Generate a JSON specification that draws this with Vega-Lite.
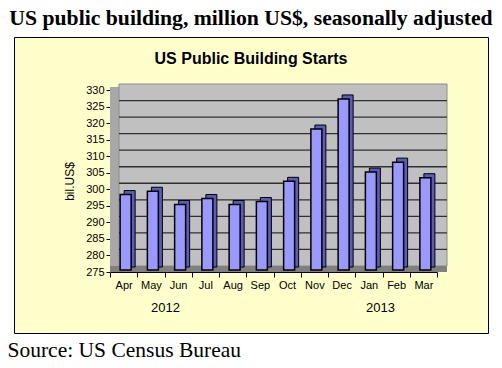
{
  "$schema": "https://vega.github.io/schema/vega-lite/v6.json",
  "width": 474,
  "height": 296,
  "autosize": {"type": "none"},
  "padding": {"left": 14, "top": 37, "right": 14, "bottom": 35},
  "background": "white",
  "title": {
    "text": "US public building, million US$, seasonally adjusted",
    "subtitle": "US Public Building Starts",
    "anchor": "middle",
    "frame": "group",
    "font": "Liberation Serif",
    "fontSize": 21.7,
    "fontWeight": "bold",
    "color": "black",
    "subtitleFont": "Liberation Sans",
    "subtitleFontSize": 16,
    "subtitleFontWeight": "bold",
    "subtitleColor": "black",
    "subtitlePadding": 21,
    "offset": -30
  },
  "config": {"view": {"fill": "#FFFFCC", "stroke": "black", "strokeWidth": 1}},
  "datasets": {
    "starts": [
      {"month": "Apr", "value": 298.4},
      {"month": "May", "value": 299.4},
      {"month": "Jun", "value": 295.4},
      {"month": "Jul", "value": 297.2},
      {"month": "Aug", "value": 295.4},
      {"month": "Sep", "value": 296.3},
      {"month": "Oct", "value": 302.4},
      {"month": "Nov", "value": 318.2},
      {"month": "Dec", "value": 327.3},
      {"month": "Jan", "value": 305.2},
      {"month": "Feb", "value": 308.2},
      {"month": "Mar", "value": 303.5}
    ],
    "grid": [
      {"v": 280}, {"v": 285}, {"v": 290}, {"v": 295}, {"v": 300},
      {"v": 305}, {"v": 310}, {"v": 315}, {"v": 320}, {"v": 325}
    ],
    "years": [{"year": "2012"}, {"year": "2013"}]
  },
  "layer": [
    {
      "data": {"values": [{}]},
      "mark": {"type": "rect", "fill": "#A8A8A8", "x2Offset": 9, "yOffset": -3, "y2Offset": 0},
      "encoding": {
        "x": {"datum": 0, "type": "quantitative", "scale": {"domain": [0, 12], "range": [96, 423], "nice": false, "zero": false}, "axis": null},
        "x2": {"datum": 0},
        "y": {
          "datum": 330, "type": "quantitative",
          "scale": {"domain": [275, 330], "range": [235, 53], "nice": false, "zero": false},
          "axis": {"orient": "left", "offset": -96, "values": [275, 280, 285, 290, 295, 300, 305, 310, 315, 320, 325, 330], "labelOverlap": false, "title": "bil.US$", "titleFont": "Liberation Sans", "titleFontSize": 12, "titleFontWeight": "normal", "titleColor": "black", "titlePadding": 9, "labelFont": "Liberation Sans", "labelFontSize": 11, "labelColor": "black", "tickColor": "black", "tickSize": 4, "domainColor": "#606060", "grid": false}
        },
        "y2": {"datum": 275}
      }
    },
    {
      "data": {"values": [{}]},
      "mark": {"type": "rect", "fill": "#C0C0C0", "stroke": "#8C8C8C", "strokeWidth": 1, "xOffset": 9, "x2Offset": 10, "yOffset": -6, "y2Offset": -6},
      "encoding": {
        "x": {"datum": 0, "type": "quantitative", "scale": {"domain": [0, 12], "range": [96, 423], "nice": false, "zero": false}, "axis": null},
        "x2": {"datum": 12},
        "y": {
          "datum": 330, "type": "quantitative",
          "scale": {"domain": [275, 330], "range": [235, 53], "nice": false, "zero": false},
          "axis": {"orient": "left", "offset": -96, "values": [275, 280, 285, 290, 295, 300, 305, 310, 315, 320, 325, 330], "labelOverlap": false, "title": "bil.US$", "titleFont": "Liberation Sans", "titleFontSize": 12, "titleFontWeight": "normal", "titleColor": "black", "titlePadding": 9, "labelFont": "Liberation Sans", "labelFontSize": 11, "labelColor": "black", "tickColor": "black", "tickSize": 4, "domainColor": "#606060", "grid": false}
        },
        "y2": {"datum": 275}
      }
    },
    {
      "data": {"name": "grid"},
      "mark": {"type": "rule", "color": "#303030", "strokeWidth": 1.3, "xOffset": 9, "x2Offset": 10, "yOffset": -6},
      "encoding": {
        "x": {"datum": 0, "type": "quantitative", "scale": {"domain": [0, 12], "range": [96, 423], "nice": false, "zero": false}, "axis": null},
        "x2": {"datum": 12},
        "y": {
          "field": "v", "type": "quantitative",
          "scale": {"domain": [275, 330], "range": [235, 53], "nice": false, "zero": false},
          "axis": {"orient": "left", "offset": -96, "values": [275, 280, 285, 290, 295, 300, 305, 310, 315, 320, 325, 330], "labelOverlap": false, "title": "bil.US$", "titleFont": "Liberation Sans", "titleFontSize": 12, "titleFontWeight": "normal", "titleColor": "black", "titlePadding": 9, "labelFont": "Liberation Sans", "labelFontSize": 11, "labelColor": "black", "tickColor": "black", "tickSize": 4, "domainColor": "#606060", "grid": false}
        }
      }
    },
    {
      "data": {"values": [{}]},
      "mark": {"type": "rect", "fill": "#808080", "x2Offset": 10, "yOffset": -6, "y2Offset": 0},
      "encoding": {
        "x": {"datum": 0, "type": "quantitative", "scale": {"domain": [0, 12], "range": [96, 423], "nice": false, "zero": false}, "axis": null},
        "x2": {"datum": 12},
        "y": {
          "datum": 275, "type": "quantitative",
          "scale": {"domain": [275, 330], "range": [235, 53], "nice": false, "zero": false},
          "axis": {"orient": "left", "offset": -96, "values": [275, 280, 285, 290, 295, 300, 305, 310, 315, 320, 325, 330], "labelOverlap": false, "title": "bil.US$", "titleFont": "Liberation Sans", "titleFontSize": 12, "titleFontWeight": "normal", "titleColor": "black", "titlePadding": 9, "labelFont": "Liberation Sans", "labelFontSize": 11, "labelColor": "black", "tickColor": "black", "tickSize": 4, "domainColor": "#606060", "grid": false}
        },
        "y2": {"datum": 275}
      }
    },
    {
      "data": {"name": "starts"},
      "mark": {"type": "bar", "width": 11, "fill": "#5C5CB8", "stroke": "black", "strokeWidth": 1, "xOffset": 6, "yOffset": -4, "y2Offset": -5},
      "encoding": {
        "x": {"field": "month", "type": "nominal", "sort": null, "scale": {"type": "band", "range": [96, 423], "paddingInner": 0, "paddingOuter": 0}, "axis": null},
        "y": {
          "field": "value", "type": "quantitative",
          "scale": {"domain": [275, 330], "range": [235, 53], "nice": false, "zero": false},
          "axis": {"orient": "left", "offset": -96, "values": [275, 280, 285, 290, 295, 300, 305, 310, 315, 320, 325, 330], "labelOverlap": false, "title": "bil.US$", "titleFont": "Liberation Sans", "titleFontSize": 12, "titleFontWeight": "normal", "titleColor": "black", "titlePadding": 9, "labelFont": "Liberation Sans", "labelFontSize": 11, "labelColor": "black", "tickColor": "black", "tickSize": 4, "domainColor": "#606060", "grid": false}
        },
        "y2": {"datum": 275}
      }
    },
    {
      "data": {"name": "starts"},
      "mark": {"type": "bar", "width": 11, "fill": "#9999FF", "stroke": "black", "strokeWidth": 1.5, "xOffset": 2, "y2Offset": -2},
      "encoding": {
        "x": {
          "field": "month", "type": "nominal", "sort": null,
          "scale": {"type": "band", "range": [96, 423], "paddingInner": 0, "paddingOuter": 0},
          "axis": {"orient": "bottom", "offset": -61, "tickBand": "extent", "domainColor": "black", "tickColor": "black", "tickSize": 5, "labelFont": "Liberation Sans", "labelFontSize": 11, "labelColor": "black", "labelPadding": 2, "labelAngle": 0, "labelOverlap": false, "title": null}
        },
        "y": {
          "field": "value", "type": "quantitative",
          "scale": {"domain": [275, 330], "range": [235, 53], "nice": false, "zero": false},
          "axis": {"orient": "left", "offset": -96, "values": [275, 280, 285, 290, 295, 300, 305, 310, 315, 320, 325, 330], "labelOverlap": false, "title": "bil.US$", "titleFont": "Liberation Sans", "titleFontSize": 12, "titleFontWeight": "normal", "titleColor": "black", "titlePadding": 9, "labelFont": "Liberation Sans", "labelFontSize": 11, "labelColor": "black", "tickColor": "black", "tickSize": 4, "domainColor": "#606060", "grid": false}
        },
        "y2": {"datum": 275}
      }
    },
    {
      "data": {"name": "years"},
      "mark": {"type": "point", "opacity": 0},
      "encoding": {
        "x": {
          "field": "year", "type": "ordinal",
          "scale": {"type": "point", "range": [151, 366], "padding": 0},
          "axis": {"orient": "bottom", "offset": -32, "domain": false, "ticks": false, "tickSize": 0, "labelPadding": 0, "labelFont": "Liberation Sans", "labelFontSize": 13, "labelColor": "black", "labelAngle": 0, "title": "Source: US Census Bureau", "titleFont": "Liberation Serif", "titleFontSize": 21.5, "titleFontWeight": "normal", "titleColor": "black", "titleAnchor": "start", "titleX": -7, "titlePadding": 25}
        }
      }
    }
  ],
  "resolve": {"scale": {"x": "independent"}}
}
